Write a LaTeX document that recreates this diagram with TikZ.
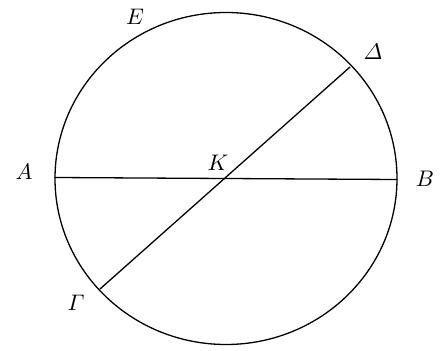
\documentclass[tikz,border=0pt]{standalone}
\usepackage{amsmath}
\begin{document}
\begin{tikzpicture}[x=1pt, y=-1pt, line join = round, line cap = round, line width=1.3pt]
	\tikzset{label style/.style={inner sep=0pt, scale=2.25}}
	\useasboundingbox (0,0) rectangle (440,351);
	\path (226,178.5) coordinate (K)
	(55,177.5) coordinate (A)
	(397,179.5) coordinate (B)
	(350,67) coordinate (D)
	(100,289) coordinate (G)
	;
	\draw (K) ellipse [x radius=171, y radius=166];
	\draw (A)--(B);
	\draw (G)--(D);
	\foreach \n/\x/\y/\t in {lA/24/172/A,lB/425/179/B,lK/218/163/K,lE/135/17/E,lD/373/52/\varDelta,lG/76/303/\varGamma}
	\node[label style] (\n) at (\x,\y) {$\t$};
\end{tikzpicture}
\end{document}
